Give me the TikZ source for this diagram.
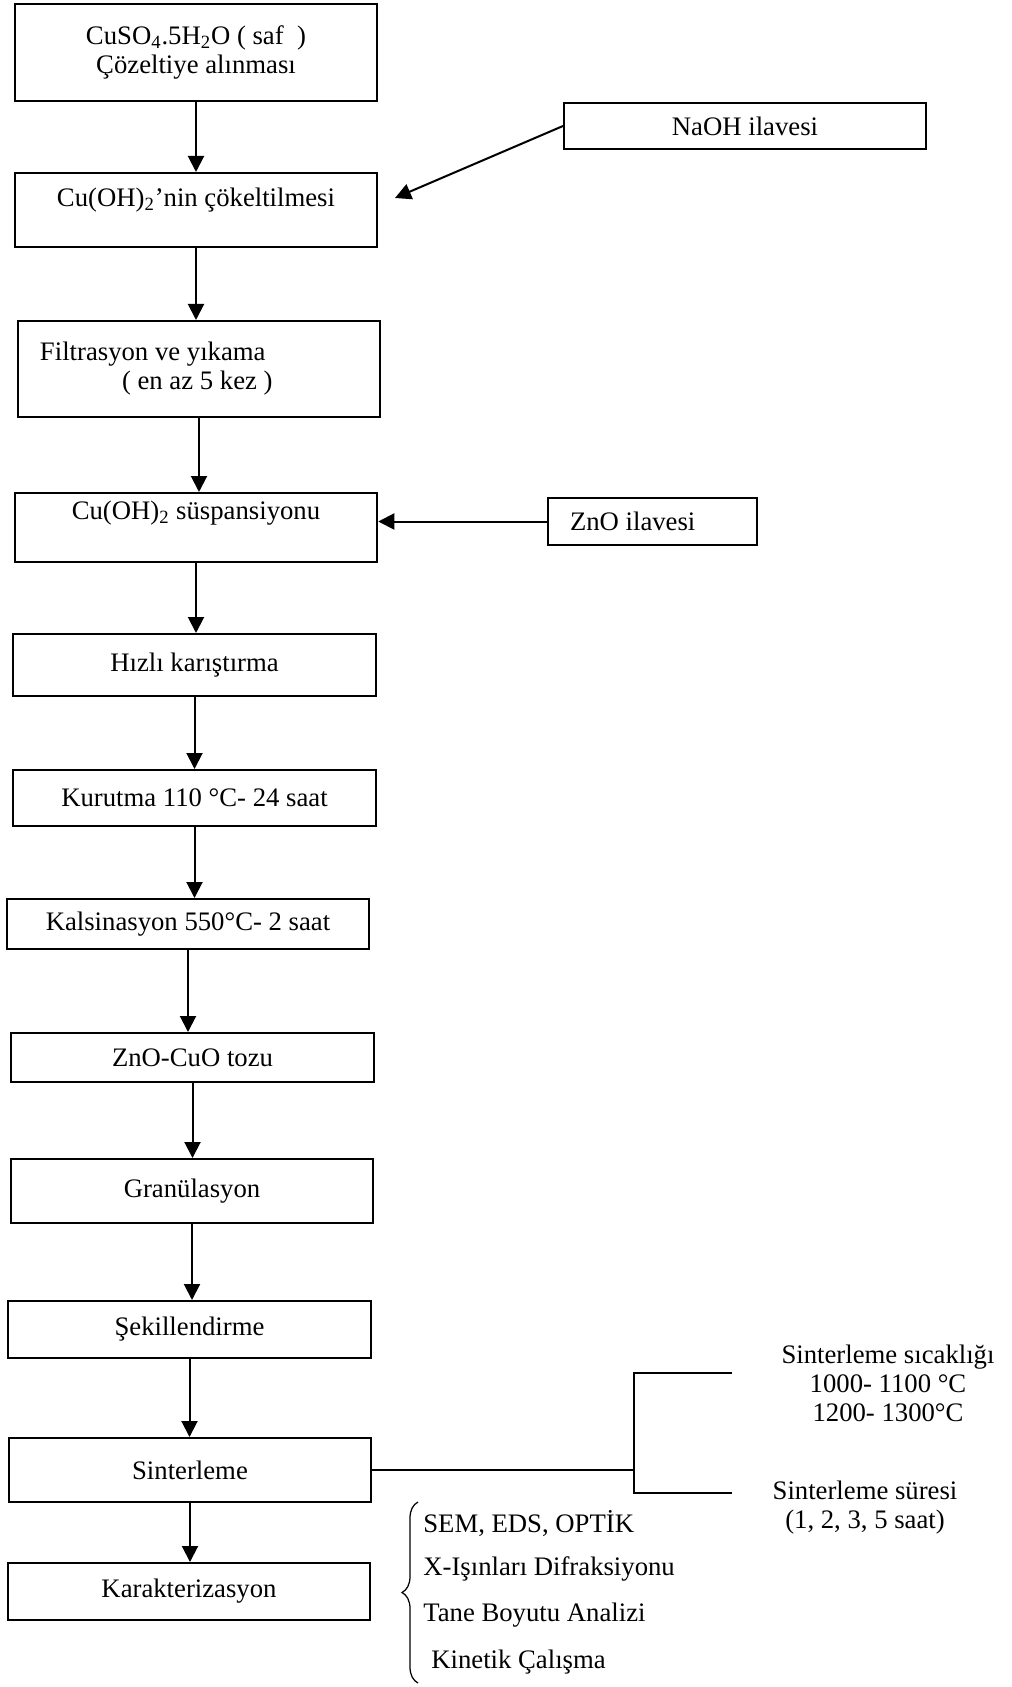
\documentclass[tikz,border=0pt]{standalone}
\usepackage{fontspec}
\setmainfont{Liberation Serif}
\usepackage{tikz}
\usetikzlibrary{arrows.meta,decorations.pathreplacing}
\newcommand{\steptext}{\fontsize{15.2}{16.5}\selectfont}
\tikzset{
  % --- process steps -----------------------------------------------------------
  stepbox/.style={rectangle,draw,line width=0.4mm,minimum width=72.5mm,
                  inner sep=1mm,align=center,font=\steptext},
  % --- connectors --------------------------------------------------------------
  flow/.style={-{Triangle[length=3.2mm,width=3.2mm]},line width=0.4mm},
  link/.style={line width=0.3mm},
  % --- free text ---------------------------------------------------------------
  sidetext/.style={inner sep=0pt,align=center,font=\steptext},
  listtext/.style={inner sep=0pt,anchor=west,font=\steptext},
}

\begin{document}
\begin{tikzpicture}[x=0.2mm, y=-0.2mm]
  \useasboundingbox (0,0) rectangle (1011,1687);

  % ---- the main line, top to bottom ----
  \node[stepbox,minimum height=19.4mm] (b1) at (196,52.5)
        {CuSO\textsubscript{4}.5H\textsubscript{2}O ( saf~~)\\Çözeltiye alınması};
  \node[stepbox,minimum height=14.8mm,text depth=5.2mm] (b2) at (196,210)
        {Cu(OH)\textsubscript{2}’nin çökeltilmesi};
  \node[stepbox,minimum height=19.2mm,text width=63.6mm,align=flush left] (b3) at (199,369)
        {Filtrasyon ve yıkama\\\hspace*{16.4mm}( en az 5 kez )};
  \node[stepbox,minimum height=13.8mm,text depth=6.8mm] (b4) at (196,527.5)
        {Cu(OH)\textsubscript{2} süspansiyonu};
  \node[stepbox,minimum height=12.4mm] (b5)  at (194.5,665)   {Hızlı karıştırma};
  \node[stepbox,minimum height=11.2mm] (b6)  at (194.5,798)   {Kurutma 110 °C- 24 saat};
  \node[stepbox,minimum height=10mm]   (b7)  at (188,924)     {Kalsinasyon 550°C- 2 saat};
  \node[stepbox,minimum height=9.8mm]  (b8)  at (192.5,1057.5){ZnO-CuO tozu};
  \node[stepbox,minimum height=12.8mm] (b9)  at (192,1191)    {Granülasyon};
  \node[stepbox,minimum height=11.4mm] (b10) at (189.5,1329.5){Şekillendirme};
  \node[stepbox,minimum height=12.8mm] (b11) at (190,1470)    {Sinterleme};
  \node[stepbox,minimum height=11.4mm] (b12) at (189,1591.5)  {Karakterizasyon};

  % ---- additions ----
  \node[stepbox,minimum width=72.4mm,minimum height=9.2mm] (naoh) at (745,126)
        {NaOH ilavesi};
  \node[stepbox,minimum width=41.8mm,minimum height=9.4mm,text width=33mm,
        align=flush left] (zno) at (652.5,521.5) {ZnO ilavesi};
  \coordinate (naohend) at (395,198);

  % ---- sintering conditions ----
  \coordinate (fork)   at (634,1470);
  \coordinate (sicend) at (732,1373);
  \coordinate (surend) at (732,1493);
  \node[sidetext] (sic) at (888,1383)
        {Sinterleme sıcaklığı\\1000- 1100 °C\\1200- 1300°C};
  \node[sidetext] (sur) at (865,1507.5) {Sinterleme süresi\\(1, 2, 3, 5 saat)};

  % ---- characterisation methods ----
  \coordinate (brtop) at (418,1502);
  \coordinate (brbot) at (418,1683);
  \node[listtext] (k1) at (423,1524) {SEM, EDS, OPTİK};
  \node[listtext] (k2) at (423,1569) {X-Işınları Difraksiyonu};
  \node[listtext] (k3) at (423,1615) {Tane Boyutu Analizi};
  \node[listtext] (k4) at (431,1662) {Kinetik Çalışma};

  \foreach \a/\b in {b1/b2,b2/b3,b3/b4,b4/b5,b5/b6,b6/b7,b7/b8,b8/b9,b9/b10,b10/b11,b11/b12}
    \draw[flow] (\a.south) -- (\a.south |- \b.north);

  \draw[flow] (naoh.west) -- (naohend);
  \draw[flow] (zno.west) -- (zno.west -| b4.east);

  \draw[link] (b11.east) -- (fork);
  \draw[link] (sicend) -- (sicend -| fork) -- (surend -| fork) -- (surend);

  \draw[link,line width=0.25mm,decorate,decoration={brace,amplitude=3.2mm}]
        (brbot) -- (brtop);
\end{tikzpicture}
\end{document}
